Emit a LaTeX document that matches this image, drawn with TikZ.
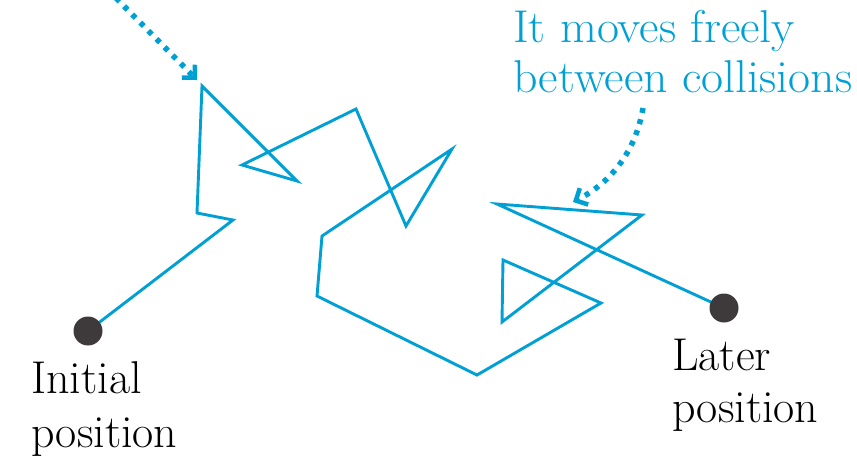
\documentclass[tikz,border=0pt]{standalone}
\usepackage{fontspec}
\usepackage{graphicx}
\usetikzlibrary{arrows.meta}
\definecolor{pathblue}{RGB}{0,160,212}
\definecolor{dotgray}{RGB}{62,58,60}
\newcommand{\labelsize}[1]{\fontsize{46}{#1}\selectfont\addfontfeatures{LetterSpace=1.5}}
\tikzset{
  walk/.style={draw=pathblue, line width=2.9pt, line join=miter, miter limit=20},
  particle/.style={circle, fill=dotgray, minimum size=29pt, inner sep=0pt},
  callout/.style={draw=pathblue, line width=5.5pt, dash pattern=on 5pt off 6.5pt,
    -{Straight Barb[angle=90:13pt, line width=4.5pt]}},
  bluelabel/.style={text=pathblue, inner sep=0pt, anchor=base west,
    font=\labelsize{50}},
  blacklabel/.style={text=black, inner sep=0pt, anchor=base west},
}
\begin{document}
\begin{tikzpicture}[x=1pt, y=-1pt]
  \useasboundingbox (0,0) rectangle (857,459);
  \clip (0,0) rectangle (857,459);
  % vertices of the random walk
  \coordinate (v1) at (233,220);
  \coordinate (v2) at (197,213);
  \coordinate (v3) at (202,86);
  \coordinate (v4) at (297,181);
  \coordinate (v5) at (242,165);
  \coordinate (v6) at (356,109);
  \coordinate (v7) at (406,226);
  \coordinate (v8) at (452,149);
  \coordinate (v9) at (322,236);
  \coordinate (v10) at (317,296);
  \coordinate (v11) at (477,375);
  \coordinate (v12) at (601,303);
  \coordinate (v13) at (503,260);
  \coordinate (v14) at (502,322);
  \coordinate (v15) at (642,215);
  \coordinate (v16) at (497,204);
  \coordinate (p0) at (88,331);
  \coordinate (p1) at (724,308);
  \draw[walk] (p0) -- (v1) -- (v2) -- (v3) -- (v4) -- (v5) -- (v6) -- (v7)
    -- (v8) -- (v9) -- (v10) -- (v11) -- (v12) -- (v13) -- (v14) -- (v15) -- (v16)
    -- (p1);
  \node[particle] (init) at (p0) {};
  \node[particle] (later) at (p1) {};
  % callout arrows
  \coordinate (a1s) at (116,-2);
  \coordinate (a1e) at (197,80);
  \draw[callout] (a1s) -- (a1e);
  \coordinate (a2s) at (643,108);
  \coordinate (a2e) at (573,202);
  \draw[callout] (a2s) .. controls (636,150) and (612,182) .. (a2e);
  % labels
  \node[bluelabel] (free) at (513,42)
    {\scalebox{1.04}[1]{\vtop{\hbox{It moves freely}\hbox{between collisions}}}};
  \node[blacklabel, font=\labelsize{54}] (initlab) at (31,393)
    {\vtop{\hbox{Initial}\hbox{position}}};
  \node[blacklabel, font=\labelsize{52}] (laterlab) at (672,370)
    {\vtop{\hbox{Later}\hbox{position}}};
\end{tikzpicture}
\end{document}
